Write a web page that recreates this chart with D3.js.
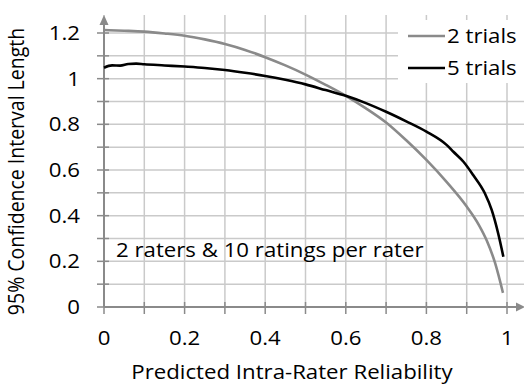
<!DOCTYPE html>
<html><head><meta charset="utf-8">
<script src="https://cdn.jsdelivr.net/npm/d3@7"></script>
<style>body{margin:0;background:#fff}svg{display:block}</style>
</head><body>
<svg id="c" width="524" height="386"></svg>
<script>
const xTicks = [0, 0.2, 0.4, 0.6, 0.8, 1];
const xTickLabels = ["0", "0.2", "0.4", "0.6", "0.8", "1"];
const yTicks = [0, 0.2, 0.4, 0.6, 0.8, 1, 1.2];
const yTickLabels = ["0", "0.2", "0.4", "0.6", "0.8", "1", "1.2"];
const seriesNames = ["2 trials", "5 trials"];
const xs2 = [0,0.05,0.1,0.15,0.2,0.25,0.3,0.35,0.4,0.45,0.5,0.55,0.6,0.65,0.7,0.75,0.8,0.85,0.9,0.93,0.95,0.97,0.99];
const trials2 = [1.213,1.21,1.206,1.198,1.188,1.172,1.152,1.126,1.094,1.058,1.018,0.973,0.925,0.87,0.808,0.73,0.644,0.548,0.44,0.36,0.29,0.195,0.062];
const xs5 = [0,0.02,0.04,0.06,0.08,0.1,0.15,0.2,0.25,0.3,0.35,0.4,0.45,0.5,0.55,0.6,0.65,0.7,0.75,0.8,0.85,0.867,0.892,0.916,0.945,0.962,0.978,0.991];
const trials5 = [1.048,1.058,1.057,1.064,1.066,1.063,1.058,1.053,1.047,1.038,1.026,1.012,0.995,0.975,0.95,0.925,0.893,0.855,0.813,0.768,0.71,0.68,0.636,0.578,0.498,0.425,0.323,0.22];
const annotation = "2 raters & 10 ratings per rater";
const xTitle = "Predicted Intra-Rater Reliability";
const yTitle = "95% Confidence Interval Length";

const svg = d3.select("#c");
const x = d3.scaleLinear().domain([0, 1]).range([104, 507]);
const y = d3.scaleLinear().domain([0, 1.2]).range([307, 33]);
const FONT = "'Open Sans', sans-serif", FS = 19.5, SX = 1.14;
const gridC = "#cacaca", axisC = "#8a8a8a";

function txt(t, px, py, anchor, rot) {
  svg.append("text")
    .attr("transform", `translate(${px},${py}) scale(${SX},1)` + (rot ? ` rotate(${rot})` : ""))
    .attr("text-anchor", anchor).attr("font-family", FONT).attr("font-size", FS)
    .attr("fill", "#000").text(t);
}

// grid
const gx = d3.range(0, 1.0001, 0.1), gy = d3.range(0.1, 1.2001, 0.1);
svg.append("g").selectAll("line").data(gx).join("line")
  .attr("x1", d => x(d)).attr("x2", d => x(d)).attr("y1", y(0)).attr("y2", 15)
  .attr("stroke", gridC).attr("stroke-width", 1.5);
svg.append("g").selectAll("line").data(gy).join("line")
  .attr("x1", x(0)).attr("x2", 524).attr("y1", d => y(d)).attr("y2", d => y(d))
  .attr("stroke", gridC).attr("stroke-width", 1.5);

// axes
svg.append("line").attr("x1", x(0)).attr("x2", 518).attr("y1", y(0)).attr("y2", y(0)).attr("stroke", axisC).attr("stroke-width", 2);
svg.append("line").attr("x1", x(0)).attr("x2", x(0)).attr("y1", y(0)).attr("y2", 22).attr("stroke", axisC).attr("stroke-width", 2);
svg.append("path").attr("d", `M${x(0)-4.5},25 L${x(0)},15 L${x(0)+4.5},25 Z`).attr("fill", axisC);
svg.append("path").attr("d", `M516,${y(0)-4.5} L525,${y(0)} L516,${y(0)+4.5} Z`).attr("fill", axisC);
svg.append("g").selectAll("line").data(gx).join("line")
  .attr("x1", d => x(d)).attr("x2", d => x(d)).attr("y1", y(0) - 5).attr("y2", y(0) + 7)
  .attr("stroke", axisC).attr("stroke-width", 1.5);
svg.append("g").selectAll("line").data(d3.range(0, 1.2001, 0.1)).join("line")
  .attr("x1", x(0) - 7).attr("x2", x(0) + 5).attr("y1", d => y(d)).attr("y2", d => y(d))
  .attr("stroke", axisC).attr("stroke-width", 1.5);

// tick labels
yTicks.forEach((v, i) => txt(yTickLabels[i], 80, y(v) + 7, "end"));
xTicks.forEach((v, i) => txt(xTickLabels[i], x(v), 345, "middle"));
txt(xTitle, 292, 379, "middle");
txt(yTitle, 24, 171.5, "middle", -90);

// annotation
txt(annotation, 116, 257, "start");

// lines
const line = d3.line().x(d => x(d[0])).y(d => y(d[1])).curve(d3.curveMonotoneX);
svg.append("path").datum(xs2.map((v, i) => [v, trials2[i]])).attr("d", line)
  .attr("fill", "none").attr("stroke", "#8a8a8a").attr("stroke-width", 2.6).attr("stroke-linejoin", "round");
svg.append("path").datum(xs5.map((v, i) => [v, trials5[i]])).attr("d", line)
  .attr("fill", "none").attr("stroke", "#000").attr("stroke-width", 2.6).attr("stroke-linejoin", "round");

// legend
svg.append("rect").attr("x", 398).attr("y", 20).attr("width", 126).attr("height", 63).attr("fill", "#fff");
const legColors = ["#8a8a8a", "#000"];
seriesNames.forEach((n, i) => {
  const cy = 36 + i * 32;
  svg.append("line").attr("x1", 408).attr("x2", 445).attr("y1", cy).attr("y2", cy)
    .attr("stroke", legColors[i]).attr("stroke-width", 2.6);
  txt(n, 447, cy + 7, "start");
});
</script>
</body></html>
